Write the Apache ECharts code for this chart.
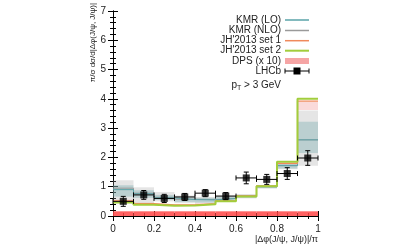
<!DOCTYPE html>
<html><head><meta charset="utf-8">
<script src="https://cdn.jsdelivr.net/npm/echarts@6/dist/echarts.min.js"></script>
<style>html,body{margin:0;padding:0;background:#fff}#c{width:414px;height:249px}</style>
</head><body><div id="c"></div>
<script>
// ---- data ----
const binEdges = [0,0.1,0.2,0.3,0.4,0.5,0.6,0.7,0.8,0.9,1.0];
const lhcbX   = [0.05,0.15,0.25,0.35,0.45,0.55,0.65,0.75,0.85,0.95];
const lhcbY   = [0.50,0.72,0.60,0.65,0.78,0.68,1.30,1.25,1.45,1.98];
const lhcbErr = [0.17,0.15,0.14,0.12,0.12,0.12,0.20,0.17,0.20,0.25];
const lhcbXErr = 0.05;
const jh1 = [0.52,0.42,0.38,0.38,0.42,0.52,0.69,1.03,1.80,3.92];
const jh2 = [0.46,0.38,0.35,0.36,0.40,0.50,0.67,1.02,1.85,4.00];
const jh1Lo = [0.48,0.40,0.36,0.36,0.40,0.50,0.67,1.00,1.76,3.62];
const jh1Hi = [0.56,0.46,0.40,0.40,0.44,0.54,0.70,1.05,1.82,3.90];
const kmrLO   = [0.90,0.76,0.62,0.56,0.55,0.60,0.68,1.00,1.72,2.60];
const kmrLOLo = [0.66,0.62,0.55,0.48,0.46,0.52,0.62,0.95,1.62,2.15];
const kmrLOHi = [1.05,0.88,0.72,0.63,0.62,0.66,0.72,1.04,1.80,3.22];
const kmrNLO   = [0.95,0.78,0.64,0.57,0.56,0.60,0.69,1.00,1.72,2.60];
const kmrNLOLo = [0.55,0.45,0.50,0.44,0.44,0.50,0.60,0.94,1.60,1.72];
const kmrNLOHi = [1.22,0.98,0.82,0.70,0.65,0.70,0.75,1.06,1.82,3.60];
const dpsLo = [0,0,0,0,0,0,0,0,0,0];
const dpsHi = [0.16,0.16,0.16,0.16,0.16,0.16,0.16,0.16,0.16,0.16];
const xTicks = [0,0.2,0.4,0.6,0.8,1];
const yTicks = [0,1,2,3,4,5,6,7];
const legendNames = ["KMR (LO)","KMR (NLO)","JH'2013 set 1","JH'2013 set 2","DPS (x 10)","LHCb"];

// ---- helpers ----
function bandData(lo, hi){ return lo.map((l,i)=>[binEdges[i],binEdges[i+1],l,hi[i]]); }
function stepData(v){ const d=v.map((y,i)=>[binEdges[i],y]); d.push([binEdges[v.length],v[v.length-1]]); return d; }
function bandSeries(name, lo, hi, color){
  return {type:'custom', name, data:bandData(lo,hi), silent:true, z:1,
    renderItem:(p,api)=>{
      const a=api.coord([api.value(0),api.value(3)]), b=api.coord([api.value(1),api.value(2)]);
      return {type:'rect', shape:{x:a[0],y:a[1],width:b[0]-a[0],height:b[1]-a[1]}, style:{fill:color}};
    }};
}
function stepSeries(name, v, color, w){
  return {type:'line', name, data:stepData(v), step:'end', symbol:'none', z:3,
    lineStyle:{color, width:w}, silent:true};
}
const F = 'Liberation Sans, Arial, sans-serif';
const mctx = document.createElement('canvas').getContext('2d');
function tw(t, size){ mctx.font = size+'px '+F; return mctx.measureText(t).width; }
const axisCommon = {
  type:'value', axisLine:{show:true,lineStyle:{color:'#000',width:1}},
  splitLine:{show:false}, axisTick:{show:true,inside:true,length:5,lineStyle:{color:'#000'}},
  minorTick:{show:true,length:3,lineStyle:{color:'#000'}}
};
const chart = echarts.init(document.getElementById('c'), null, {renderer:'canvas'});
const lx = 281, sx0 = 285, sx1 = 309, rows = [20,30.5,40.7,50.7,61,71];
const graphics = [];
const sampleColors = ['#5aa3a8','#9a9a9a','#f08a5c','#a2cd3c'];
legendNames.forEach((n,i)=>{
  graphics.push({type:'text', x:lx, y:rows[i], style:{text:n, font:'10px '+F, fill:'#222', textAlign:'right', textVerticalAlign:'middle'}});
  if(i<4) graphics.push({type:'line', shape:{x1:sx0,y1:rows[i],x2:sx1,y2:rows[i]}, style:{stroke:sampleColors[i], lineWidth:i===3?2:1.5}});
});
graphics.push({type:'rect', shape:{x:sx0,y:rows[4]-3,width:sx1-sx0,height:6}, style:{fill:'#f6a5a5'}});
graphics.push({type:'line', shape:{x1:sx0,y1:rows[5],x2:sx1,y2:rows[5]}, style:{stroke:'#000',lineWidth:1}});
graphics.push({type:'line', shape:{x1:sx0,y1:rows[5]-2.5,x2:sx0,y2:rows[5]+2.5}, style:{stroke:'#000',lineWidth:1}});
graphics.push({type:'line', shape:{x1:sx1,y1:rows[5]-2.5,x2:sx1,y2:rows[5]+2.5}, style:{stroke:'#000',lineWidth:1}});
graphics.push({type:'rect', shape:{x:(sx0+sx1)/2-3.5,y:rows[5]-3.5,width:7,height:7}, style:{fill:'#000'}});
// p_T > 3 GeV
const ptY = 85, rest = ' > 3 GeV';
const restX = lx - tw(rest,10), subX = restX - tw('T',7);
graphics.push({type:'text', x:lx, y:ptY, style:{text:rest, font:'10px '+F, fill:'#222', textAlign:'right', textVerticalAlign:'middle'}});
graphics.push({type:'text', x:restX, y:ptY+3, style:{text:'T', font:'7px '+F, fill:'#222', textAlign:'right', textVerticalAlign:'middle'}});
graphics.push({type:'text', x:subX, y:ptY, style:{text:'p', font:'10px '+F, fill:'#222', textAlign:'right', textVerticalAlign:'middle'}});
graphics.push({type:'text', x:93, y:3, rotation:Math.PI/2, style:{text:'π/σ dσ/d|Δφ(J/ψ, J/ψ)|', font:'8px '+F, fill:'#222', textAlign:'right', textVerticalAlign:'middle'}});
graphics.push({type:'text', x:318, y:240, style:{text:'|Δφ(J/ψ, J/ψ)|/π', font:'9px '+F, fill:'#222', textAlign:'right', textVerticalAlign:'middle'}});

const option = {
  animation:false,
  grid:{left:113, right:96, top:11, bottom:33},
  xAxis:[
    Object.assign({}, axisCommon, {min:0,max:1,interval:0.2,position:'bottom',minorTick:Object.assign({},axisCommon.minorTick,{splitNumber:4}),
      axisLabel:{show:true,margin:8,fontSize:10,fontFamily:F,color:'#222',formatter:v=>xTicks.includes(+v.toFixed(1))?String(+v.toFixed(1)):''}}),
    Object.assign({}, axisCommon, {min:0,max:1,interval:0.2,position:'top',minorTick:Object.assign({},axisCommon.minorTick,{splitNumber:4}),axisLabel:{show:false}})
  ],
  yAxis:[
    Object.assign({}, axisCommon, {min:0,max:7,interval:1,position:'left',minorTick:Object.assign({},axisCommon.minorTick,{splitNumber:5}),
      axisLabel:{show:true,margin:7,fontSize:10,fontFamily:F,color:'#222',formatter:v=>yTicks.includes(v)?String(v):''}}),
    Object.assign({}, axisCommon, {min:0,max:7,interval:1,position:'right',minorTick:Object.assign({},axisCommon.minorTick,{splitNumber:5}),axisLabel:{show:false}})
  ],
  graphic:graphics,
  series:[
    bandSeries('DPS (x 10)', dpsLo, dpsHi, 'rgba(255,70,70,0.85)'),
    bandSeries("JH'2013 set 1 band", jh1Lo, jh1Hi, 'rgba(240,150,150,0.35)'),
    bandSeries('KMR (NLO) band', kmrNLOLo, kmrNLOHi, 'rgba(160,160,160,0.28)'),
    bandSeries('KMR (LO) band', kmrLOLo, kmrLOHi, 'rgba(110,165,170,0.35)'),
    stepSeries('KMR (NLO)', kmrNLO, '#9a9a9a', 1),
    stepSeries('KMR (LO)', kmrLO, '#5aa3a8', 1),
    stepSeries("JH'2013 set 1", jh1, '#f08a5c', 1.2),
    stepSeries("JH'2013 set 2", jh2, '#a2cd3c', 2),
    {type:'custom', name:'LHCb err', silent:true, z:5,
      data:lhcbX.map((x,i)=>[x,lhcbY[i],lhcbErr[i]]),
      renderItem:(p,api)=>{
        const x=api.value(0), y=api.value(1), e=api.value(2);
        const l=api.coord([x-lhcbXErr,y]), r=api.coord([x+lhcbXErr,y]);
        const t=api.coord([x,y+e]), b=api.coord([x,y-e]);
        const st={stroke:'#000',lineWidth:1};
        return {type:'group', children:[
          {type:'line',shape:{x1:l[0],y1:l[1],x2:r[0],y2:r[1]},style:st},
          {type:'line',shape:{x1:t[0],y1:t[1],x2:b[0],y2:b[1]},style:st},
          {type:'line',shape:{x1:t[0]-2.5,y1:t[1],x2:t[0]+2.5,y2:t[1]},style:st},
          {type:'line',shape:{x1:b[0]-2.5,y1:b[1],x2:b[0]+2.5,y2:b[1]},style:st},
          {type:'line',shape:{x1:l[0],y1:l[1]-2.5,x2:l[0],y2:l[1]+2.5},style:st},
          {type:'line',shape:{x1:r[0],y1:r[1]-2.5,x2:r[0],y2:r[1]+2.5},style:st}
        ]};
      }},
    {type:'scatter', name:'LHCb', data:lhcbX.map((x,i)=>[x,lhcbY[i]]), symbol:'rect', symbolSize:7, itemStyle:{color:'#000'}, z:6, silent:true}
  ]
};
chart.setOption(option);
</script></body></html>
